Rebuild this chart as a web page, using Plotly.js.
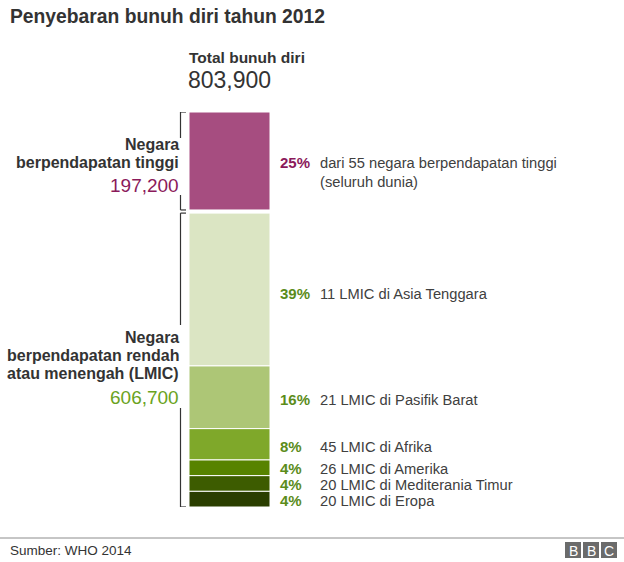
<!DOCTYPE html>
<html>
<head>
<meta charset="utf-8">
<script src="https://cdn.plot.ly/plotly-3.0.1.min.js"></script>
<style>html,body{margin:0;padding:0;background:#fff;}#chart{width:624px;height:562px;}</style>
</head>
<body>
<div id="chart"></div>
<script>
// ---- data ----
const chartTitle = "Penyebaran bunuh diri tahun 2012";
const totalLabel = "Total bunuh diri";
const totalValue = "803,900";
const segmentNames = ["Negara berpendapatan tinggi", "Asia Tenggara", "Pasifik Barat", "Afrika", "Amerika", "Mediterania Timur", "Eropa"];
const segmentShares = [25, 39, 16, 8, 4, 4, 4];
const segmentPercentLabels = ["25%", "39%", "16%", "8%", "4%", "4%", "4%"];
const segmentDescriptions = [
  "dari 55 negara berpendapatan tinggi<br>(seluruh dunia)",
  "11 LMIC di Asia Tenggara",
  "21 LMIC di Pasifik Barat",
  "45 LMIC di Afrika",
  "26 LMIC di Amerika",
  "20 LMIC di Mediterania Timur",
  "20 LMIC di Eropa"
];
const groupHeaders = [["Negara", "berpendapatan tinggi"], ["Negara", "berpendapatan rendah", "atau menengah (LMIC)"]];
const groupTotals = ["197,200", "606,700"];
const sourceText = "Sumber: WHO 2014";

// ---- style ----
const segmentColors = ["#a64d80", "#dbe5c3", "#adc676", "#7fa82a", "#578300", "#3d5c00", "#2a3e00"];
const pctColors = ["#8b1a5b", "#5b8c1a", "#5b8c1a", "#5b8c1a", "#5b8c1a", "#5b8c1a", "#5b8c1a"];
const labelShifts = [-2, -4, -2, -2, -1, -1, -1];
const groupTotalColors = ["#8b1a5b", "#6aa321"];
const FONT = "Liberation Sans, Arial, Helvetica, sans-serif";
const W = 624, H = 562, TOP = 112, BOTTOM = 507;
const GAP = 0.8; // gap between the two income groups (in share units)

// bases
const bases = [];
let acc = 0;
segmentShares.forEach((v, i) => {
  if (i === 1) acc += GAP;
  bases.push(acc);
  acc += v;
});
const yMax = acc;
const mids = segmentShares.map((v, i) => bases[i] + v / 2);

const px2xp = p => p / W;
const px2yp = p => (BOTTOM - p) / (BOTTOM - TOP);
const px2yv = p => (p - TOP) / (BOTTOM - TOP) * yMax;

const trace = {
  type: "bar",
  x: segmentShares.map(() => 0),
  y: segmentShares,
  base: bases,
  width: 1,
  text: segmentNames,
  textposition: "none",
  marker: {color: segmentColors, line: {color: "#ffffff", width: 1}},
  hoverinfo: "text+y"
};

const annotations = [];
// title
annotations.push({xref: "paper", yref: "paper", x: px2xp(8), y: px2yp(16), xanchor: "left", yanchor: "middle",
  text: "<b>" + chartTitle + "</b>", showarrow: false, font: {family: FONT, size: 19.3, color: "#333333"}});
annotations.push({xref: "paper", yref: "paper", x: px2xp(187), y: px2yp(58), xanchor: "left", yanchor: "middle",
  text: "<b>" + totalLabel + "</b>", showarrow: false, font: {family: FONT, size: 15.5, color: "#333333"}});
annotations.push({xref: "paper", yref: "paper", x: px2xp(186), y: px2yp(80), xanchor: "left", yanchor: "middle",
  text: totalValue, showarrow: false, font: {family: FONT, size: 23, color: "#333333"}});

// right side labels
segmentShares.forEach((v, i) => {
  annotations.push({xref: "x", yref: "y", x: 0.5, y: mids[i], xanchor: "left", yanchor: "middle", xshift: 8, yshift: labelShifts[i],
    text: "<b>" + segmentPercentLabels[i] + "</b>", showarrow: false, font: {family: FONT, size: 15, color: pctColors[i]}});
  annotations.push({xref: "x", yref: "y", x: 0.5, y: mids[i], xanchor: "left", yanchor: "top", xshift: 48, yshift: 9.5 + labelShifts[i],
    align: "left", text: segmentDescriptions[i], showarrow: false, font: {family: FONT, size: 14.7, color: "#404040"}});
});

// left group labels
const headerLinesPx = [[144, 162], [337, 355, 373]];
const totalPx = [185, 397];
groupHeaders.forEach((lines, g) => {
  lines.forEach((ln, k) => {
    annotations.push({xref: "paper", yref: "paper", x: px2xp(181), y: px2yp(headerLinesPx[g][k]), xanchor: "right", yanchor: "middle",
      text: "<b>" + ln + "</b>", showarrow: false, font: {family: FONT, size: 16, color: "#333333"}});
  });
  annotations.push({xref: "paper", yref: "paper", x: px2xp(181), y: px2yp(totalPx[g]), xanchor: "right", yanchor: "middle",
    text: groupTotals[g], showarrow: false, font: {family: FONT, size: 19, color: groupTotalColors[g]}});
});

// footer
annotations.push({xref: "paper", yref: "paper", x: px2xp(8), y: px2yp(550), xanchor: "left", yanchor: "middle",
  text: sourceText, showarrow: false, font: {family: FONT, size: 13.5, color: "#333333"}});
const logoX = [565, 583, 601];
const logoL = ["B", "B", "C"];

const shapes = [];
const lineStyle = {color: "#333333", width: 1.2};
// brackets
const brX0 = px2xp(180.5), brX1 = px2xp(186);
const groups = [
  {top: bases[0], bot: bases[0] + segmentShares[0], breakA: px2yv(138), breakB: px2yv(195)},
  {top: bases[1], bot: yMax, breakA: px2yv(325), breakB: px2yv(408)}
];
groups.forEach(gr => {
  shapes.push({type: "line", xref: "paper", yref: "y", x0: brX0, x1: brX1, y0: gr.top, y1: gr.top, line: lineStyle});
  shapes.push({type: "line", xref: "paper", yref: "y", x0: brX0, x1: brX1, y0: gr.bot, y1: gr.bot, line: lineStyle});
  shapes.push({type: "line", xref: "paper", yref: "y", x0: brX0, x1: brX0, y0: gr.top, y1: gr.breakA, line: lineStyle});
  shapes.push({type: "line", xref: "paper", yref: "y", x0: brX0, x1: brX0, y0: gr.breakB, y1: gr.bot, line: lineStyle});
});
// footer rule
shapes.push({type: "line", xref: "paper", yref: "paper", x0: 0, x1: 1, y0: px2yp(538), y1: px2yp(538), line: {color: "#8c8c8c", width: 1}});
logoX.forEach((lx, i) => {
  shapes.push({type: "rect", xref: "paper", yref: "paper", x0: px2xp(lx), x1: px2xp(lx + 16), y0: px2yp(542), y1: px2yp(558),
    fillcolor: "#6b6b6b", line: {width: 0}});
  annotations.push({xref: "paper", yref: "paper", x: px2xp(lx + 8), y: px2yp(550.5), xanchor: "center", yanchor: "middle",
    text: logoL[i], showarrow: false, font: {family: FONT, size: 14, color: "#ffffff"}});
});

const layout = {
  width: W, height: H,
  margin: {l: 0, r: 0, t: TOP, b: H - BOTTOM, pad: 0},
  paper_bgcolor: "#ffffff", plot_bgcolor: "#ffffff",
  showlegend: false,
  barmode: "overlay",
  xaxis: {range: [-229.5 / 81, (W - 229.5) / 81], visible: false, fixedrange: true},
  yaxis: {range: [yMax, 0], visible: false, fixedrange: true},
  annotations: annotations,
  shapes: shapes
};

Plotly.newPlot("chart", [trace], layout, {displayModeBar: false, staticPlot: true});
</script>
</body>
</html>
